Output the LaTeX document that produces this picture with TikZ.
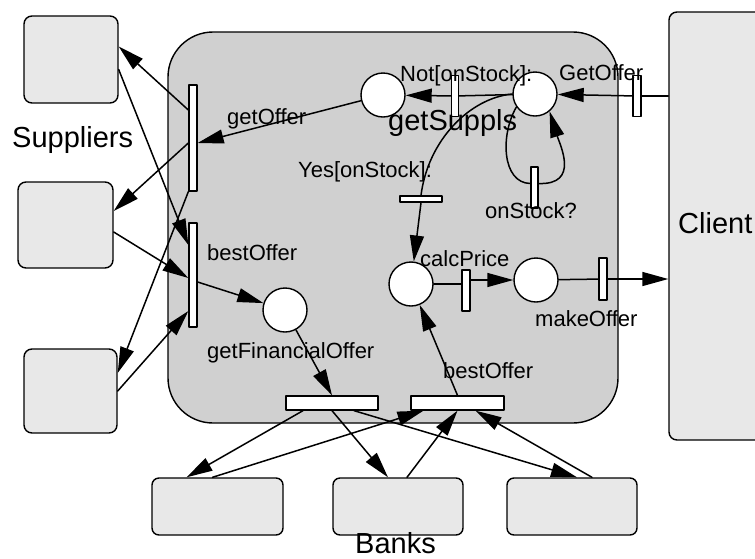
\documentclass[tikz,border=0pt]{standalone}
\usepackage{fontspec}
\setmainfont{Liberation Sans}
\usetikzlibrary{arrows.meta}
\definecolor{procgray}{RGB}{208,208,208}
\definecolor{boxgray}{RGB}{232,232,232}
\tikzset{
  place/.style={circle,draw,fill=white,minimum size=44pt,inner sep=0pt,line width=1.4pt},
  trans/.style={rectangle,draw,fill=white,inner sep=0pt,line width=1.3pt},
  actor/.style={rectangle,rounded corners=8pt,draw,fill=boxgray,inner sep=0pt,line width=1.4pt},
  lbl/.style={font=\fontsize{22}{24}\selectfont,anchor=base west,inner sep=0pt},
  biglbl/.style={font=\fontsize{29}{32}\selectfont,anchor=base west,inner sep=0pt},
  arc/.style={->,line width=1.5pt}
}
\begin{document}
\begin{tikzpicture}[line cap=round,line join=round,>={Triangle[length=26pt,width=14pt]},x=1pt,y=-1pt]
            \useasboundingbox (0,0) rectangle (755,558);
            \clip (0,0) rectangle (755,558);
            \node [rectangle,rounded corners=45pt,draw,fill=procgray,line width=1.4pt,minimum width=450pt,minimum height=391pt] (proc) at (393,227.5) {};
            \node [actor,minimum width=94pt,minimum height=87pt] (supA) at (71,59.5) {};
            \node [actor,minimum width=95pt,minimum height=86pt] (supB) at (65.5,225) {};
            \node [actor,minimum width=93pt,minimum height=84pt] (supC) at (70.5,391) {};
            \node [actor,minimum width=140pt,minimum height=428pt] (client) at (739,226) {};
            \node [actor,rounded corners=7pt,minimum width=131pt,minimum height=57pt] (bankA) at (217.5,506.5) {};
            \node [actor,rounded corners=7pt,minimum width=130pt,minimum height=57pt] (bankB) at (398,506.5) {};
            \node [actor,rounded corners=7pt,minimum width=130pt,minimum height=57pt] (bankC) at (572,506.5) {};
            \node [place] (pNot) at (383,95) {};
            \node [place] (pGs) at (535,94) {};
            \node [place] (pCalc) at (411,284) {};
            \node [place] (pMake) at (536,280) {};
            \node [place] (pFin) at (285,310) {};
            \node [trans,minimum width=8pt,minimum height=106pt] (tGet) at (193,138) {};
            \node [trans,minimum width=8pt,minimum height=104pt] (tBest) at (193,275) {};
            \node [trans,minimum width=7pt,minimum height=41pt] (tNot) at (455,96) {};
            \node [trans,minimum width=8pt,minimum height=41pt] (tGO) at (637,96) {};
            \node [trans,minimum width=7pt,minimum height=41pt] (tStock) at (534.5,187.5) {};
            \node [trans,minimum width=42pt,minimum height=6pt] (tYes) at (421,199) {};
            \node [trans,minimum width=8pt,minimum height=41pt] (tCalc) at (466,290.5) {};
            \node [trans,minimum width=8pt,minimum height=42pt] (tMake) at (603,279) {};
            \node [trans,minimum width=92pt,minimum height=14pt] (tFin) at (332,403) {};
            \node [trans,minimum width=93pt,minimum height=14pt] (tBO) at (457.5,403) {};
            \node [biglbl] (lSup) at (12,147) {Suppliers};
            \node [biglbl] (lGs) at (388,130) {getSuppls};
            \node [biglbl] (lClient) at (678,233) {Client};
            \node [biglbl] (lBanks) at (355,553) {Banks};
            \node [lbl] (lNot) at (400,81) {Not[onStock]:};
            \node [lbl] (lGO) at (559,80) {GetOffer};
            \node [lbl] (lGet) at (227,124) {getOffer};
            \node [lbl] (lYes) at (298,177) {Yes[onStock]:};
            \node [lbl] (lStock) at (485,218) {onStock?};
            \node [lbl] (lBest) at (207,260) {bestOffer};
            \node [lbl] (lCalc) at (420,266) {calcPrice};
            \node [lbl] (lMake) at (535,326) {makeOffer};
            \node [lbl] (lFin) at (207,358) {getFinancialOffer};
            \node [lbl] (lBO) at (443,378) {bestOffer};
            \draw [arc] ([yshift=28pt]tGet.west) -- ([yshift=13pt]supA.east);
            \draw [arc] ([yshift=-5pt]tGet.west) -- ([yshift=14pt]supB.east);
            \draw [arc] (tGet.south west) -- ([yshift=18pt]supC.east);
            \draw [arc] ([yshift=-10pt]supA.east) -- ([yshift=30pt]tBest.west);
            \draw [arc] ([yshift=-7pt]supB.east) -- ([yshift=-3pt]tBest.west);
            \draw [arc] (supC.east) -- ([yshift=-36pt]tBest.west);
            \draw [arc] ([yshift=-7pt]tBest.east) -- (pFin);
            \draw [arc] (pNot) -- ([yshift=-5pt]tGet.east);
            \draw [line width=1.5pt] (pGs) -- (tNot);
            \draw [arc] (tNot) -- (pNot);
            \draw [line width=1.5pt] (client.west |- tGO) -- (tGO);
            \draw [arc] (tGO) -- (pGs);
            \draw [line width=1.5pt] (pGs.215) .. controls (500,135) and (502,183) .. ([yshift=4pt]tStock.west);
            \draw [arc] ([yshift=4pt]tStock.east) .. controls (580,185) and (560,145) .. (pGs.-50);
            \draw [line width=1.5pt] (pGs.west) .. controls (470,98) and (428,140) .. (tYes.north);
            \draw [arc] (tYes.south) -- (pCalc);
            \draw [line width=1.5pt] (pCalc) -- (tCalc.west |- pCalc);
            \draw [arc] (tCalc.east |- pMake) -- (pMake);
            \draw [line width=1.5pt] (pMake) -- (tMake);
            \draw [arc] (tMake) -- (client.west |- tMake);
            \draw [arc] (pFin) -- (tFin.north);
            \draw [arc] (tBO.north) -- (pCalc);
            \draw [arc] ([xshift=-29pt]tFin.south) -- ([xshift=-31pt]bankA.north);
            \draw [arc] (tFin.south) -- ([xshift=-10pt]bankB.north);
            \draw [arc] ([xshift=22pt]tFin.south) -- ([xshift=5pt]bankC.north);
            \draw [arc] ([xshift=-5pt]bankA.north) -- ([xshift=-34pt]tBO.south);
            \draw [arc] ([xshift=9pt]bankB.north) -- (tBO.south);
            \draw [arc] ([xshift=20pt]bankC.north) -- ([xshift=18pt]tBO.south);
\end{tikzpicture}
\end{document}
